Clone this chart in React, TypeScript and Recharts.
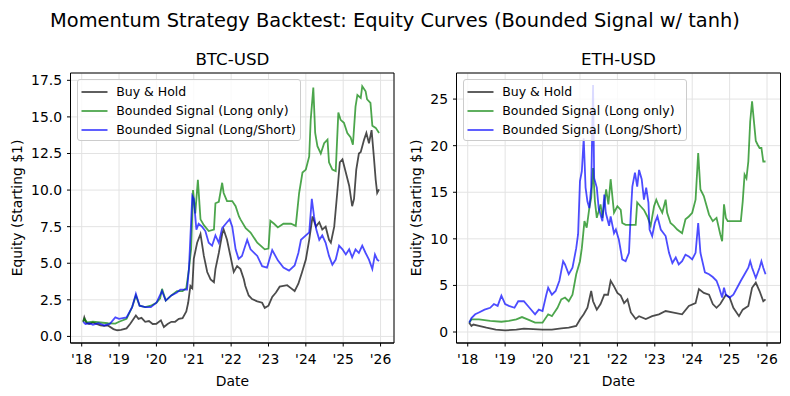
import React from 'react';
import { LineChart, Line, XAxis, YAxis, CartesianGrid, ReferenceArea, Legend } from 'recharts';

const FONT = '"DejaVu Sans", "Liberation Sans", sans-serif';

const suptitle = 'Momentum Strategy Backtest: Equity Curves (Bounded Signal w/ tanh)';
const panelTitles = ['BTC-USD', 'ETH-USD'];
const xLabel = 'Date';
const yLabel = 'Equity (Starting $1)';

const yearTicks = [2018, 2019, 2020, 2021, 2022, 2023, 2024, 2025, 2026];
const yearLabels = ["'18", "'19", "'20", "'21", "'22", "'23", "'24", "'25", "'26"];
const btcYTicks = [0, 2.5, 5, 7.5, 10, 12.5, 15, 17.5];
const ethYTicks = [0, 5, 10, 15, 20, 25];

const X_DOMAIN: [number, number] = [2017.7, 2026.36];
const BTC_Y_DOMAIN: [number, number] = [-0.45, 18.0];
const ETH_Y_DOMAIN: [number, number] = [-1.18, 27.8];

const seriesNames = ['Buy & Hold', 'Bounded Signal (Long only)', 'Bounded Signal (Long/Short)'];
const seriesColors = ['#000000', '#008000', '#0000ff'];

type Pt = [number, number];

const btcBuyHold: Pt[] = [
  [2018.04, 1.0], [2018.07, 1.3], [2018.12, 0.95], [2018.2, 0.85], [2018.3, 0.95], [2018.4, 0.85],
  [2018.5, 0.75], [2018.6, 0.72], [2018.7, 0.75], [2018.85, 0.5], [2018.95, 0.42], [2019.05, 0.45],
  [2019.2, 0.55], [2019.3, 0.86], [2019.45, 1.43], [2019.52, 1.2], [2019.6, 1.27], [2019.7, 1.0],
  [2019.8, 1.05], [2019.9, 0.85], [2020.0, 0.86], [2020.12, 1.1], [2020.2, 0.64], [2020.3, 0.85],
  [2020.4, 1.0], [2020.5, 1.0], [2020.6, 1.2], [2020.7, 1.25], [2020.8, 1.7], [2020.85, 2.3],
  [2020.91, 3.45], [2020.96, 3.3], [2021.0, 5.3], [2021.09, 6.4], [2021.18, 7.0], [2021.27, 5.5],
  [2021.36, 4.4], [2021.45, 3.9], [2021.54, 3.7], [2021.58, 4.6], [2021.67, 5.7], [2021.76, 7.0],
  [2021.8, 7.3], [2021.89, 6.6], [2021.98, 5.5], [2022.07, 4.4], [2022.16, 4.8], [2022.25, 4.6],
  [2022.34, 3.9], [2022.38, 3.45], [2022.47, 2.8], [2022.56, 2.55], [2022.7, 2.4], [2022.83, 2.3],
  [2022.9, 1.95], [2023.0, 2.1], [2023.1, 2.7], [2023.2, 3.0], [2023.3, 3.4], [2023.5, 3.5],
  [2023.6, 3.3], [2023.7, 3.1], [2023.8, 3.6], [2023.9, 4.4], [2024.0, 5.25], [2024.09, 6.6],
  [2024.18, 8.2], [2024.27, 7.5], [2024.36, 7.8], [2024.44, 7.3], [2024.53, 7.5], [2024.62, 6.6],
  [2024.67, 6.4], [2024.76, 7.5], [2024.84, 9.8], [2024.91, 11.9], [2024.98, 12.1], [2025.07, 11.2],
  [2025.16, 10.3], [2025.24, 8.9], [2025.29, 9.4], [2025.35, 11.4], [2025.42, 12.5], [2025.47, 12.6],
  [2025.56, 13.45], [2025.62, 13.9], [2025.69, 13.2], [2025.76, 14.1], [2025.82, 12.3], [2025.87, 10.7],
  [2025.91, 9.8], [2025.96, 10.05],
];

const btcLongOnly: Pt[] = [
  [2018.04, 1.0], [2018.07, 1.2], [2018.15, 0.95], [2018.3, 1.0], [2018.5, 0.95], [2018.7, 0.9],
  [2018.9, 0.88], [2019.0, 1.0], [2019.2, 1.2], [2019.35, 2.0], [2019.45, 2.8], [2019.55, 2.1],
  [2019.7, 2.0], [2019.85, 2.1], [2020.0, 2.3], [2020.1, 2.6], [2020.15, 3.25], [2020.25, 2.45],
  [2020.4, 2.8], [2020.55, 3.1], [2020.7, 3.1], [2020.8, 3.3], [2020.87, 4.6], [2020.93, 6.0],
  [2020.98, 10.0], [2021.04, 8.4], [2021.11, 10.7], [2021.18, 8.0], [2021.27, 7.6], [2021.4, 7.2],
  [2021.54, 7.3], [2021.58, 9.1], [2021.67, 9.2], [2021.76, 10.5], [2021.8, 9.8], [2021.89, 9.25],
  [2022.03, 9.25], [2022.12, 8.9], [2022.21, 8.2], [2022.25, 8.0], [2022.39, 7.4], [2022.52, 7.1],
  [2022.7, 6.4], [2022.9, 5.95], [2023.0, 6.0], [2023.05, 7.9], [2023.15, 7.7], [2023.25, 7.45],
  [2023.4, 7.7], [2023.6, 7.7], [2023.73, 7.55], [2023.82, 9.8], [2023.91, 11.2], [2024.0, 11.4],
  [2024.09, 12.3], [2024.13, 14.8], [2024.2, 17.0], [2024.25, 13.9], [2024.31, 13.0], [2024.4, 12.5],
  [2024.49, 13.2], [2024.58, 13.45], [2024.62, 11.9], [2024.71, 11.4], [2024.8, 11.3], [2024.87, 15.3],
  [2024.93, 14.8], [2025.02, 14.6], [2025.11, 13.9], [2025.2, 13.6], [2025.26, 13.1], [2025.33, 15.7],
  [2025.38, 16.5], [2025.47, 16.3], [2025.51, 17.1], [2025.6, 16.75], [2025.64, 16.2], [2025.73, 15.95],
  [2025.78, 14.4], [2025.87, 14.25], [2025.96, 13.9],
];

const btcLongShort: Pt[] = [
  [2018.04, 1.0], [2018.1, 0.85], [2018.2, 0.9], [2018.3, 0.8], [2018.45, 0.9], [2018.6, 0.75],
  [2018.75, 0.85], [2018.9, 1.3], [2019.0, 1.2], [2019.2, 1.3], [2019.35, 2.0], [2019.45, 2.9],
  [2019.55, 2.1], [2019.7, 2.0], [2019.85, 2.0], [2020.0, 2.3], [2020.15, 3.1], [2020.25, 2.45],
  [2020.4, 2.8], [2020.55, 3.0], [2020.64, 3.2], [2020.82, 3.2], [2020.87, 4.6], [2020.96, 9.6],
  [2021.0, 9.4], [2021.07, 7.3], [2021.13, 7.7], [2021.22, 7.5], [2021.31, 7.2], [2021.4, 6.4],
  [2021.49, 6.2], [2021.58, 6.9], [2021.67, 6.4], [2021.76, 7.4], [2021.89, 7.8], [2021.96, 8.0],
  [2022.03, 7.5], [2022.12, 5.95], [2022.2, 5.3], [2022.29, 5.5], [2022.43, 6.6], [2022.52, 5.95],
  [2022.7, 5.5], [2022.83, 4.8], [2022.96, 4.7], [2023.1, 5.9], [2023.25, 5.2], [2023.4, 4.7],
  [2023.55, 4.5], [2023.7, 4.85], [2023.8, 5.7], [2023.87, 6.6], [2024.0, 6.9], [2024.09, 7.1],
  [2024.16, 9.4], [2024.22, 8.2], [2024.28, 7.3], [2024.36, 6.6], [2024.44, 6.9], [2024.53, 6.4],
  [2024.62, 5.5], [2024.71, 4.9], [2024.8, 5.25], [2024.89, 6.2], [2024.98, 5.95], [2025.07, 5.6],
  [2025.16, 5.95], [2025.24, 5.4], [2025.33, 5.95], [2025.42, 5.7], [2025.51, 6.2], [2025.6, 5.7],
  [2025.69, 5.25], [2025.78, 4.6], [2025.85, 5.6], [2025.91, 5.25], [2025.96, 5.15],
];

const ethBuyHold: Pt[] = [
  [2018.04, 1.0], [2018.1, 0.65], [2018.15, 0.8], [2018.3, 0.65], [2018.5, 0.46], [2018.75, 0.25],
  [2019.0, 0.18], [2019.3, 0.25], [2019.5, 0.36], [2019.75, 0.3], [2020.0, 0.25], [2020.25, 0.25],
  [2020.5, 0.4], [2020.7, 0.46], [2020.9, 0.65], [2021.0, 1.35], [2021.1, 1.9], [2021.2, 2.6],
  [2021.3, 4.4], [2021.35, 3.3], [2021.45, 2.4], [2021.55, 3.0], [2021.65, 4.0], [2021.75, 4.0],
  [2021.82, 5.5], [2021.91, 4.9], [2022.0, 4.2], [2022.09, 3.9], [2022.18, 3.1], [2022.27, 3.5],
  [2022.36, 2.1], [2022.49, 1.4], [2022.58, 1.7], [2022.76, 1.4], [2022.93, 1.7], [2023.11, 1.9],
  [2023.29, 2.25], [2023.47, 2.1], [2023.73, 1.9], [2023.91, 2.8], [2024.09, 3.1], [2024.18, 4.6],
  [2024.31, 4.2], [2024.45, 4.0], [2024.55, 3.0], [2024.65, 2.6], [2024.75, 3.0], [2024.9, 4.0],
  [2025.0, 3.7], [2025.1, 2.6], [2025.25, 1.7], [2025.35, 2.4], [2025.5, 2.8], [2025.6, 4.75],
  [2025.7, 5.3], [2025.8, 4.4], [2025.9, 3.3], [2025.96, 3.5],
];

const ethLongOnly: Pt[] = [
  [2018.04, 1.0], [2018.1, 1.35], [2018.3, 1.35], [2018.6, 1.2], [2018.9, 1.1], [2019.1, 1.2],
  [2019.3, 1.35], [2019.45, 1.6], [2019.6, 1.35], [2019.8, 1.0], [2020.0, 1.0], [2020.15, 1.9],
  [2020.25, 1.7], [2020.4, 2.6], [2020.5, 3.5], [2020.6, 3.7], [2020.7, 3.3], [2020.8, 4.0],
  [2020.9, 6.2], [2021.0, 7.6], [2021.05, 9.0], [2021.12, 11.9], [2021.18, 11.2], [2021.25, 13.3],
  [2021.3, 14.4], [2021.35, 17.6], [2021.4, 14.0], [2021.45, 12.25], [2021.55, 13.7], [2021.6, 12.25],
  [2021.7, 15.3], [2021.76, 13.7], [2021.82, 16.4], [2021.91, 12.8], [2022.0, 13.5], [2022.09, 13.1],
  [2022.13, 11.7], [2022.22, 11.5], [2022.49, 11.5], [2022.53, 13.9], [2022.62, 13.5], [2022.71, 13.1],
  [2022.8, 12.4], [2022.89, 11.4], [2022.98, 13.5], [2023.04, 14.2], [2023.11, 13.5], [2023.2, 12.8],
  [2023.29, 14.2], [2023.33, 12.8], [2023.42, 11.7], [2023.51, 11.4], [2023.6, 11.0], [2023.73, 10.6],
  [2023.82, 12.1], [2023.91, 12.4], [2024.0, 12.8], [2024.09, 14.2], [2024.16, 19.2], [2024.22, 15.3],
  [2024.31, 14.6], [2024.45, 12.6], [2024.55, 11.9], [2024.65, 12.25], [2024.75, 10.5], [2024.8, 9.75],
  [2024.85, 13.7], [2024.9, 12.25], [2024.95, 11.9], [2025.1, 11.9], [2025.3, 11.9], [2025.35, 14.0],
  [2025.4, 16.9], [2025.45, 16.5], [2025.5, 18.3], [2025.55, 22.6], [2025.6, 24.75], [2025.65, 22.6],
  [2025.7, 20.5], [2025.75, 20.1], [2025.8, 19.75], [2025.85, 19.75], [2025.9, 18.3], [2025.96, 18.3],
];

const ethLongShort: Pt[] = [
  [2018.04, 1.0], [2018.1, 1.5], [2018.2, 1.9], [2018.3, 2.1], [2018.45, 2.4], [2018.6, 2.6],
  [2018.7, 3.0], [2018.8, 2.8], [2018.9, 3.9], [2019.0, 3.0], [2019.1, 2.8], [2019.25, 2.6],
  [2019.35, 3.3], [2019.5, 3.3], [2019.65, 2.6], [2019.8, 1.9], [2019.9, 2.4], [2020.0, 2.25],
  [2020.1, 4.0], [2020.15, 4.75], [2020.25, 4.0], [2020.35, 4.4], [2020.45, 5.5], [2020.55, 7.6],
  [2020.6, 7.25], [2020.7, 6.2], [2020.8, 6.9], [2020.9, 9.0], [2020.95, 10.5], [2021.0, 16.2],
  [2021.05, 17.25], [2021.1, 20.8], [2021.15, 15.5], [2021.2, 14.0], [2021.25, 13.3], [2021.3, 15.5],
  [2021.35, 26.5], [2021.38, 16.5], [2021.45, 15.5], [2021.5, 13.3], [2021.6, 11.9], [2021.65, 14.75],
  [2021.69, 12.8], [2021.78, 11.4], [2021.82, 12.4], [2021.91, 10.6], [2021.96, 11.0], [2022.04, 9.9],
  [2022.13, 7.8], [2022.22, 7.6], [2022.31, 8.5], [2022.36, 12.8], [2022.4, 15.6], [2022.47, 17.1],
  [2022.53, 15.6], [2022.58, 17.4], [2022.65, 16.4], [2022.71, 14.2], [2022.77, 15.5], [2022.83, 13.9],
  [2022.86, 11.0], [2022.93, 10.3], [2023.0, 11.7], [2023.07, 12.4], [2023.16, 11.0], [2023.29, 10.3],
  [2023.38, 8.5], [2023.47, 7.4], [2023.56, 8.0], [2023.64, 7.25], [2023.73, 7.6], [2023.82, 8.3],
  [2023.91, 8.1], [2024.0, 7.8], [2024.09, 8.5], [2024.16, 11.7], [2024.22, 8.5], [2024.34, 6.4],
  [2024.45, 6.2], [2024.55, 5.9], [2024.65, 5.5], [2024.72, 4.75], [2024.8, 3.7], [2024.85, 4.75],
  [2024.9, 4.0], [2025.0, 3.7], [2025.1, 4.0], [2025.2, 4.75], [2025.3, 5.5], [2025.4, 6.2],
  [2025.5, 6.9], [2025.55, 7.6], [2025.6, 6.9], [2025.7, 5.8], [2025.8, 6.9], [2025.85, 7.6],
  [2025.9, 6.9], [2025.96, 6.2],
];

const toRows = (pts: Pt[]) => pts.map(([t, v]) => ({ t, v }));

const TICK_FONT = 13.9;

const LegendBox = () => (
  <div
    style={{
      width: 224,
      height: 61.4,
      boxSizing: 'border-box',
      border: '1px solid #cccccc',
      borderRadius: 3,
      background: 'rgba(255,255,255,0.8)',
      position: 'relative',
      fontFamily: FONT,
      fontSize: 12.5,
      color: '#000',
    }}
  >
    {seriesNames.map((n, i) => (
      <div
        key={n}
        style={{
          position: 'absolute',
          left: 0,
          top: 11.4 + i * 19.3 - 9,
          height: 18,
          display: 'flex',
          alignItems: 'center',
          whiteSpace: 'nowrap',
        }}
      >
        <svg width={38.5} height={18} style={{ display: 'block' }}>
          <line x1={3.5} x2={29.5} y1={9} y2={9} stroke={seriesColors[i]} strokeOpacity={0.7} strokeWidth={1.8} />
        </svg>
        <span style={{ lineHeight: '18px' }}>{n}</span>
      </div>
    ))}
  </div>
);

type PanelProps = {
  left: number;
  width: number;
  yAxisWidth: number;
  marginRight: number;
  legendLeft: number;
  series: Pt[][];
  yTicks: number[];
  yDomain: [number, number];
  yFmt: (v: number) => string;
};

const Panel = ({ left, width, yAxisWidth, marginRight, legendLeft, series, yTicks, yDomain, yFmt }: PanelProps) => (
  <div style={{ position: 'absolute', left, top: 0, width, height: 396 }}>
    <LineChart width={width} height={396} margin={{ top: 73, right: marginRight, bottom: 0, left: 0 }}>
      <CartesianGrid stroke="#e3e3e3" strokeWidth={1} />
      <XAxis
        type="number"
        dataKey="t"
        domain={X_DOMAIN}
        ticks={yearTicks}
        allowDataOverflow
        tickFormatter={(v: number) => yearLabels[yearTicks.indexOf(v)] ?? ''}
        height={53}
        tickSize={3.5}
        tickMargin={8}
        interval={0}
        tick={{ fill: '#000', fontSize: TICK_FONT, fontFamily: FONT }}
        tickLine={{ stroke: '#000', strokeWidth: 1 }}
        axisLine={{ stroke: '#000', strokeWidth: 1 }}
      />
      <YAxis
        type="number"
        domain={yDomain}
        ticks={yTicks}
        allowDataOverflow
        tickFormatter={yFmt}
        width={yAxisWidth}
        tickSize={3.5}
        tickMargin={5}
        interval={0}
        tick={{ fill: '#000', fontSize: TICK_FONT, fontFamily: FONT }}
        tickLine={{ stroke: '#000', strokeWidth: 1 }}
        axisLine={{ stroke: '#000', strokeWidth: 1 }}
      />
      {series.map((pts, i) => (
        <Line
          key={seriesNames[i]}
          data={toRows(pts)}
          dataKey="v"
          name={seriesNames[i]}
          type="linear"
          stroke={seriesColors[i]}
          strokeOpacity={0.7}
          strokeWidth={1.8}
          dot={false}
          activeDot={false}
          isAnimationActive={false}
        />
      ))}
      <ReferenceArea
        x1={X_DOMAIN[0]}
        x2={X_DOMAIN[1]}
        y1={yDomain[0]}
        y2={yDomain[1]}
        fill="none"
        stroke="#000"
        strokeWidth={1}
        ifOverflow="visible"
      />
      <Legend
        layout="vertical"
        align="center"
        verticalAlign="middle"
        content={() => <LegendBox />}
        wrapperStyle={{ left: legendLeft, top: 79.3, width: 224, height: 61.4 }}
      />
    </LineChart>
  </div>
);

export default function App() {
  return (
    <div style={{ position: 'absolute', left: 0, top: 0, width: 790, height: 396, background: '#fff', fontFamily: FONT }}>
      <Panel
        left={0}
        width={400}
        yAxisWidth={70.5}
        marginRight={6}
        legendLeft={76.7}
        series={[btcBuyHold, btcLongOnly, btcLongShort]}
        yTicks={btcYTicks}
        yDomain={BTC_Y_DOMAIN}
        yFmt={(v: number) => v.toFixed(1)}
      />
      <Panel
        left={400}
        width={390}
        yAxisWidth={56.5}
        marginRight={9.5}
        legendLeft={62.7}
        series={[ethBuyHold, ethLongOnly, ethLongShort]}
        yTicks={ethYTicks}
        yDomain={ETH_Y_DOMAIN}
        yFmt={(v: number) => String(v)}
      />
      <svg width={790} height={396} style={{ position: 'absolute', left: 0, top: 0, pointerEvents: 'none' }}>
        <text x={395} y={27} textAnchor="middle" fontSize={19.4} fontFamily={FONT} fill="#000">{suptitle}</text>
        <text x={232.4} y={65} textAnchor="middle" fontSize={16.7} fontFamily={FONT} fill="#000">{panelTitles[0]}</text>
        <text x={618.4} y={65} textAnchor="middle" fontSize={16.7} fontFamily={FONT} fill="#000">{panelTitles[1]}</text>
        <text x={232.4} y={386} textAnchor="middle" fontSize={13.9} fontFamily={FONT} fill="#000">{xLabel}</text>
        <text x={618.4} y={386} textAnchor="middle" fontSize={13.9} fontFamily={FONT} fill="#000">{xLabel}</text>
        <text x={22} y={208} textAnchor="middle" fontSize={13.9} fontFamily={FONT} fill="#000" transform="rotate(-90 22 208)">{yLabel}</text>
        <text x={421} y={208} textAnchor="middle" fontSize={13.9} fontFamily={FONT} fill="#000" transform="rotate(-90 421 208)">{yLabel}</text>
      </svg>
    </div>
  );
}
